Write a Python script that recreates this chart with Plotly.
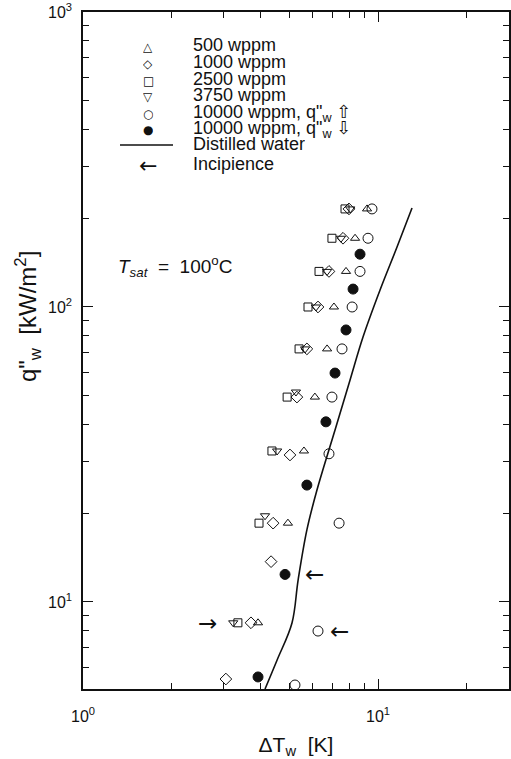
import math
import plotly.graph_objects as go

# ---------------- data ----------------
x500 = [9.18, 8.36, 7.79, 7.09, 6.72, 6.11, 5.61, 4.95, 3.92]
y500 = [215, 171, 132, 100, 72.1, 49.5, 32.5, 18.5, 8.5]

x1000 = [7.97, 7.61, 6.82, 6.26, 5.74, 5.31, 5.03, 4.41, 4.34, 3.71, 3.05]
y1000 = [215, 171, 132, 100, 72.1, 49.5, 31.5, 18.5, 13.7, 8.5, 5.48]

x2500 = [7.73, 6.98, 6.31, 5.79, 5.40, 4.92, 4.37, 3.95, 3.35]
y2500 = [215, 171, 132, 100, 72.1, 49.5, 32.5, 18.5, 8.5]

x3750 = [8.05, 7.49, 6.72, 6.16, 5.66, 5.27, 4.55, 4.14, 3.23]
y3750 = [215, 171, 132, 100, 72.1, 51.5, 32.5, 19.6, 8.5]

x10k_up = [9.54, 9.25, 8.69, 8.17, 7.55, 6.98, 6.82, 7.38, 6.26, 5.23]
y10k_up = [215, 171, 132, 100, 72.1, 49.5, 31.8, 18.5, 7.97, 5.23]

x10k_down = [8.69, 8.23, 7.79, 7.15, 6.66, 5.74, 4.84, 3.92]
y10k_down = [151, 115, 83.6, 59.7, 40.8, 24.9, 12.4, 5.57]

x_water = [4.14, 4.55, 5.11, 5.36, 5.74, 6.21, 7.15, 8.04, 8.895, 10.16, 11.60, 13.04]
y_water = [5.07, 6.36, 8.49, 11.87, 17.55, 23.97, 38.3, 56.6, 79.1, 114.2, 159.7, 216.6]

# incipience arrows (centre of arrow glyph)
inc_x = [6.11, 2.65, 7.43]
inc_y = [12.4, 8.49, 7.97]
inc_glyph = ["\u2190", "\u2192", "\u2190"]

x_tickvals = [1, 10]
x_ticktext = ["10<sup>0</sup>", "10<sup>1</sup>"]
x_minor = [2, 3, 4, 5, 6, 7, 8, 9, 20]
y_tickvals = [10, 100, 1000]
y_ticktext = ["10<sup>1</sup>", "10<sup>2</sup>", "10<sup>3</sup>"]
y_minor = [6, 7, 8, 9, 20, 30, 40, 50, 60, 70, 80, 90, 200, 300, 400, 500, 600, 700, 800, 900]

legend_labels = ["500 wppm", "1000 wppm", "2500 wppm", "3750 wppm",
                 "10000 wppm, q\"<sub>w</sub> \u21e7", "10000 wppm, q\"<sub>w</sub> \u21e9",
                 "Distilled water", "Incipience"]
legend_glyphs = ["\u25b3", "\u25c7", "\u25a1", "\u25bd", "\u25cb", "\u25cf", None, "\u2190"]

FONT = "Liberation Sans, Arial, DejaVu Sans, sans-serif"
INK = "#111111"

fig = go.Figure()

def add_series(x, y, name, symbol, size=8):
    fig.add_trace(go.Scatter(
        x=x, y=y, mode="markers", name=name, showlegend=False,
        marker=dict(symbol=symbol, size=size, color=INK, line=dict(color=INK, width=1)),
    ))

fig.add_trace(go.Scatter(x=x_water, y=y_water, mode="lines", name="Distilled water",
                         showlegend=False, line=dict(color=INK, width=1.6, shape="spline", smoothing=1.0)))
add_series(x500, y500, "500 wppm", "triangle-up-open", size=8)
add_series(x1000, y1000, "1000 wppm", "diamond-open", size=9)
add_series(x2500, y2500, "2500 wppm", "square-open", size=8)
add_series(x3750, y3750, "3750 wppm", "triangle-down-open", size=8)
add_series(x10k_up, y10k_up, "10000 wppm, q\"w up", "circle-open", size=10)
add_series(x10k_down, y10k_down, "10000 wppm, q\"w down", "circle", size=10)

# plot area kept at x 83..509, y 12..689 of the window (body margin removed below)
W, H = 511, 759
PX0, PX1, PY0, PY1 = 83, 509, 12, 689
L, R, T, B = PX0, W - PX1, PY0, H - PY1

def px_x(px):
    return (px - PX0) / (PX1 - PX0)

def px_y(py):
    return (PY1 - py) / (PY1 - PY0)

annotations = []
legend_rows = [47, 63.5, 80, 96.5, 113, 129, 146, 165]
for lab, g, row in zip(legend_labels, legend_glyphs, legend_rows):
    ann = dict(xref="paper", yref="paper", x=px_x(191), y=px_y(row),
               xanchor="left", yanchor="middle", text=lab, showarrow=False,
               font=dict(family=FONT, size=18, color=INK))
    if "<sub>" not in lab:
        ann.update(height=17, valign="bottom")
    annotations.append(ann)
    if g is not None:
        is_arrow = g == "\u2190"
        annotations.append(dict(xref="paper", yref="paper", x=px_x(148), y=px_y(row),
                                xanchor="center", yanchor="middle", text=g, showarrow=False,
                                height=15,
                                font=dict(family="DejaVu Sans",
                                          size=22 if is_arrow else 12, color=INK)))

annotations.append(dict(xref="paper", yref="paper", x=px_x(116), y=px_y(266),
                        xanchor="left", yanchor="middle", showarrow=False,
                        text="<i>T</i><sub><i>sat</i></sub>  =  100<sup>o</sup>C",
                        font=dict(family=FONT, size=19, color=INK)))

# y-axis title (placed to match the reference position)
annotations.append(dict(xref="paper", yref="paper", x=px_x(28), y=px_y(317),
                        xanchor="center", yanchor="middle", showarrow=False, textangle=-90,
                        text="q\"<sub>w</sub>  [kW/m<sup>2</sup>]",
                        font=dict(family=FONT, size=24, color=INK)))

for xv, yv, g in zip(inc_x, inc_y, inc_glyph):
    annotations.append(dict(xref="x", yref="y", x=math.log10(xv), y=math.log10(yv),
                            xanchor="center", yanchor="middle", text=g, showarrow=False,
                            font=dict(family="DejaVu Sans", size=23, color=INK)))

fig.update_layout(
    width=W, height=H,
    margin=dict(l=L, r=R, t=T, b=B, autoexpand=False),
    paper_bgcolor="white", plot_bgcolor="white",
    showlegend=False,
    font=dict(family=FONT, color=INK),
    annotations=annotations,
    shapes=[dict(type="line", xref="paper", yref="paper",
                 x0=px_x(120), x1=px_x(173), y0=px_y(145), y1=px_y(145),
                 line=dict(color=INK, width=1.6))],
)

fig.update_xaxes(
    type="log", range=[0, 1.444], automargin=False,
    tickmode="array", tickvals=x_tickvals, ticktext=x_ticktext,
    ticks="inside", ticklen=10, tickwidth=1.3, tickcolor=INK,
    ticklabelstandoff=12,
    minor=dict(ticks="inside", ticklen=6, tickwidth=1, tickcolor=INK,
               tickmode="array", tickvals=x_minor, showgrid=False),
    showline=True, linecolor=INK, linewidth=1.5, mirror="ticks",
    showgrid=False, zeroline=False,
    tickfont=dict(family=FONT, size=16, color=INK),
    title=dict(text="\u0394T<sub>w</sub>  [K]", font=dict(family=FONT, size=21, color=INK), standoff=14),
)
fig.update_yaxes(
    type="log", range=[0.705, 3], automargin=False,
    tickmode="array", tickvals=y_tickvals, ticktext=y_ticktext,
    ticks="inside", ticklen=10, tickwidth=1.3, tickcolor=INK,
    ticklabelstandoff=6, ticklabeloverflow="allow",
    minor=dict(ticks="inside", ticklen=6, tickwidth=1, tickcolor=INK,
               tickmode="array", tickvals=y_minor, showgrid=False),
    showline=True, linecolor=INK, linewidth=1.5, mirror="ticks",
    showgrid=False, zeroline=False,
    tickfont=dict(family=FONT, size=16, color=INK),
)

fig.write_html("out.html", config={"displayModeBar": False},
               post_script="document.body.style.margin='0px';document.body.style.overflow='hidden';")
